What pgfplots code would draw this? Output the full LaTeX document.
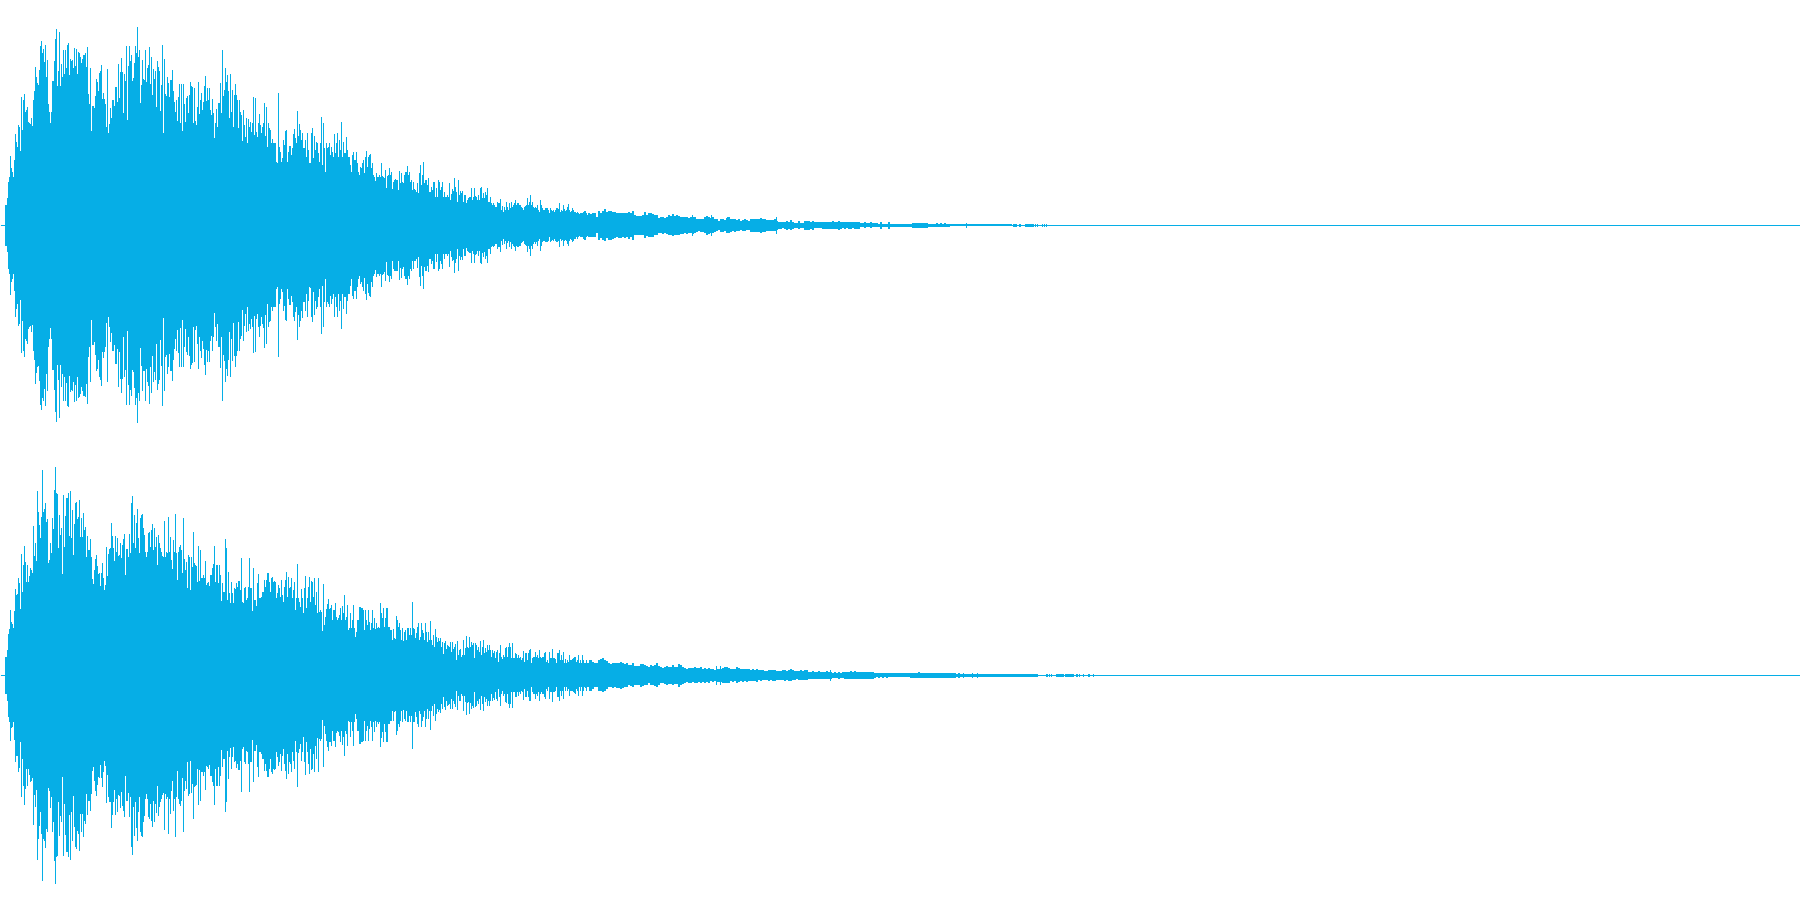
\documentclass[border=0pt]{standalone}
\usepackage{pgfplots}
\usepackage{pgfplotstable}
\pgfplotsset{compat=1.18}
\definecolor{wave}{RGB}{6,174,230}
% x = sample column in pixels; a = peak amplitude (1/3 pixel units)
\pgfplotstableread[row sep=crcr]{x a\\5 61\\6 61\\7 81\\8 131\\9 146\\10 208\\11 171\\12 161\\13 146\\14 196\\15 274\\16 251\\17 236\\18 301\\19 296\\20 223\\21 384\\22 287\\23 376\\24 394\\25 341\\26 346\\27 356\\28 311\\29 306\\30 303\\31 321\\32 298\\33 376\\34 404\\35 476\\36 444\\37 426\\38 421\\39 466\\40 538\\41 554\\42 518\\43 528\\44 491\\45 541\\46 446\\47 496\\48 364\\49 341\\50 308\\51 341\\52 433\\53 433\\54 493\\55 559\\56 589\\57 418\\58 464\\59 579\\60 418\\61 484\\62 446\\63 526\\64 454\\65 526\\66 473\\67 541\\68 546\\69 452\\70 499\\71 493\\72 496\\73 471\\74 531\\75 479\\76 528\\77 454\\78 519\\79 516\\80 506\\81 486\\82 498\\83 511\\84 511\\85 516\\86 476\\87 536\\88 394\\89 364\\90 471\\91 284\\92 358\\93 358\\94 351\\95 388\\96 438\\97 431\\98 404\\99 456\\100 463\\101 481\\102 380\\103 398\\104 380\\105 364\\106 294\\107 469\\108 276\\109 304\\110 351\\111 323\\112 376\\113 376\\114 358\\115 416\\116 416\\117 371\\118 484\\119 381\\120 461\\121 503\\122 461\\123 336\\124 454\\125 434\\126 538\\127 316\\128 479\\129 538\\130 493\\131 511\\132 434\\133 441\\134 488\\135 538\\136 518\\137 594\\138 504\\139 526\\140 368\\141 421\\142 496\\143 438\\144 436\\145 526\\146 431\\147 471\\148 481\\149 536\\150 424\\151 504\\152 391\\153 469\\154 439\\155 463\\156 356\\157 494\\158 476\\159 463\\160 344\\161 421\\162 541\\163 278\\164 498\\165 394\\166 388\\167 446\\168 426\\169 386\\170 436\\171 436\\172 466\\173 404\\174 371\\175 341\\176 376\\177 314\\178 384\\179 424\\180 308\\181 424\\182 284\\183 424\\184 364\\185 311\\186 381\\187 388\\188 336\\189 391\\190 431\\191 418\\192 414\\193 306\\194 411\\195 314\\196 301\\197 356\\198 431\\199 334\\200 376\\%
201 398\\202 346\\203 371\\204 418\\205 448\\206 374\\207 411\\208 376\\209 411\\210 346\\211 331\\212 378\\213 336\\214 263\\215 306\\216 348\\217 296\\218 366\\219 366\\220 428\\221 336\\222 526\\223 388\\224 406\\225 471\\226 431\\227 451\\228 404\\229 321\\230 454\\231 341\\232 406\\233 294\\234 391\\235 424\\236 391\\237 376\\238 291\\239 376\\240 341\\241 331\\242 254\\243 346\\244 301\\245 266\\246 321\\247 246\\248 318\\249 296\\250 311\\251 281\\252 306\\253 384\\254 271\\255 381\\256 281\\257 266\\258 306\\259 334\\260 301\\261 276\\262 296\\263 308\\264 368\\265 268\\266 356\\267 236\\268 306\\269 291\\270 286\\271 246\\272 258\\273 246\\274 246\\275 246\\276 191\\277 186\\278 396\\279 236\\280 221\\281 191\\282 201\\283 256\\284 241\\285 284\\286 286\\287 191\\288 221\\289 238\\290 238\\291 211\\292 231\\293 274\\294 288\\295 261\\296 246\\297 343\\298 268\\299 304\\300 286\\301 256\\302 278\\303 231\\304 231\\305 256\\306 206\\307 276\\308 226\\309 186\\310 188\\311 276\\312 291\\313 201\\314 268\\315 226\\316 251\\317 246\\318 216\\319 191\\320 246\\321 326\\322 181\\323 306\\324 231\\325 161\\326 246\\327 231\\328 236\\329 246\\330 211\\331 236\\332 221\\333 206\\334 274\\335 216\\336 246\\337 276\\338 206\\339 256\\340 226\\341 311\\342 206\\343 251\\344 216\\345 216\\346 266\\347 226\\348 206\\349 206\\350 181\\351 161\\352 211\\353 221\\354 196\\355 196\\356 221\\357 186\\358 161\\359 151\\360 176\\361 171\\362 186\\363 196\\364 158\\365 206\\366 224\\367 176\\368 204\\369 211\\370 214\\371 171\\372 186\\373 151\\374 146\\375 133\\376 156\\377 146\\378 146\\379 151\\380 146\\381 186\\382 148\\383 146\\384 141\\385 166\\386 111\\387 148\\388 151\\389 171\\390 151\\391 161\\392 108\\393 131\\394 136\\395 138\\396 136\\397 136\\398 106\\399 164\\400 128\\%
401 158\\402 131\\403 126\\404 151\\405 161\\406 161\\407 178\\408 151\\409 161\\410 131\\411 136\\412 106\\413 131\\414 108\\415 106\\416 101\\417 128\\418 96\\419 156\\420 181\\421 121\\422 151\\423 190\\424 126\\425 136\\426 136\\427 121\\428 141\\429 101\\430 101\\431 116\\432 106\\433 131\\434 131\\435 86\\436 111\\437 86\\438 136\\439 131\\440 106\\441 116\\442 131\\443 86\\444 101\\445 86\\446 86\\447 91\\448 86\\449 126\\450 76\\451 94\\452 108\\453 104\\454 142\\455 114\\456 101\\457 71\\458 136\\459 91\\460 103\\461 96\\462 103\\463 71\\464 91\\465 91\\466 68\\467 76\\468 81\\469 84\\470 84\\471 112\\472 76\\473 86\\474 112\\475 88\\476 86\\477 76\\478 91\\479 76\\480 112\\481 116\\482 83\\483 96\\484 81\\485 101\\486 91\\487 112\\488 71\\489 71\\490 86\\491 66\\492 61\\493 66\\494 61\\495 56\\496 56\\497 71\\498 66\\499 66\\500 79\\501 46\\502 59\\503 41\\504 56\\505 46\\506 71\\507 54\\508 46\\509 66\\510 51\\511 71\\512 56\\513 61\\514 66\\515 76\\516 61\\517 66\\518 66\\519 61\\520 61\\521 54\\522 51\\523 46\\524 56\\525 59\\526 61\\527 81\\528 61\\529 71\\530 91\\531 61\\532 71\\533 56\\534 51\\535 56\\536 51\\537 61\\538 46\\539 41\\540 76\\541 61\\542 51\\543 46\\544 46\\545 51\\546 51\\547 51\\548 46\\549 36\\550 51\\551 46\\552 44\\553 46\\554 41\\555 46\\556 51\\557 51\\558 48\\559 66\\560 41\\561 46\\562 44\\563 61\\564 48\\565 44\\566 46\\567 56\\568 63\\569 46\\570 41\\571 43\\572 51\\573 46\\574 41\\575 41\\576 36\\577 41\\578 36\\579 33\\580 36\\581 36\\582 36\\583 41\\584 43\\585 44\\586 36\\587 31\\588 36\\589 36\\692 31\\711 31\\727 24\\776 25\\966 7\\1033 4\\1035 4\\1037 4\\1042 4\\1044 4\\1046 4\\}\topA
\pgfplotstableread[row sep=crcr]{x a\\590 34\\592 36\\594 36\\596 24\\598 43\\600 37\\602 43\\604 48\\606 39\\608 43\\610 44\\612 41\\614 39\\616 36\\618 37\\620 38\\622 36\\624 38\\626 36\\628 40\\630 36\\632 44\\634 30\\636 28\\638 28\\640 28\\642 30\\644 39\\646 32\\648 36\\650 36\\652 34\\654 30\\656 30\\658 23\\660 24\\662 26\\664 23\\666 25\\668 30\\670 28\\672 33\\674 28\\676 30\\678 28\\680 26\\682 26\\684 24\\686 26\\688 23\\690 24\\692 26\\694 24\\696 20\\698 18\\700 20\\702 20\\704 24\\706 28\\708 26\\710 22\\712 24\\714 20\\716 18\\718 14\\720 20\\722 20\\724 16\\726 22\\728 24\\730 20\\732 18\\734 20\\736 17\\738 18\\740 14\\742 16\\744 18\\746 15\\748 14\\750 20\\752 19\\754 19\\756 20\\758 20\\760 22\\762 19\\764 20\\766 16\\768 16\\770 16\\772 16\\774 18\\776 14\\778 10\\780 11\\782 9\\784 10\\786 14\\788 10\\790 15\\792 11\\794 8\\796 8\\798 12\\800 7\\802 8\\804 13\\806 13\\808 13\\810 10\\812 13\\814 9\\816 9\\818 9\\820 9\\822 10\\824 10\\826 10\\828 10\\830 10\\832 12\\834 10\\836 10\\838 14\\840 10\\842 9\\844 10\\846 9\\848 10\\850 10\\852 9\\854 10\\856 10\\858 10\\860 6\\862 6\\864 9\\866 6\\868 6\\870 9\\872 6\\874 6\\876 6\\878 5\\880 10\\882 5\\884 5\\886 5\\888 10\\890 5\\892 5\\894 5\\896 5\\898 4\\900 4\\902 5\\904 4\\906 5\\908 4\\910 4\\912 7\\914 7\\916 7\\918 7\\920 7\\922 7\\924 7\\926 7\\928 4\\930 5\\932 4\\934 4\\936 6\\938 5\\940 6\\942 4\\944 6\\946 5\\948 4\\950 3\\952 3\\954 3\\956 3\\958 3\\960 3\\962 3\\964 3\\966 3\\968 3\\970 3\\972 3\\974 3\\976 3\\978 3\\980 3\\982 3\\984 3\\986 3\\988 3\\990 3\\992 3\\994 3\\996 3\\998 3\\1000 3\\1002 3\\1004 3\\1006 3\\1008 3\\1010 3\\1013 4\\1015 4\\1019 4\\1025 4\\1027 4\\1029 4\\1031 4\\}\topB
\pgfplotstableread[row sep=crcr]{x a\\5 56\\6 56\\7 76\\8 124\\9 139\\10 196\\11 159\\12 154\\13 141\\14 193\\15 259\\16 241\\17 243\\18 291\\19 278\\20 199\\21 364\\22 250\\23 331\\24 388\\25 341\\26 281\\27 331\\28 281\\29 298\\30 321\\31 316\\32 308\\33 448\\34 358\\35 396\\36 343\\37 553\\38 491\\39 451\\40 411\\41 476\\42 616\\43 491\\44 498\\45 518\\46 461\\47 469\\48 338\\49 346\\50 398\\51 366\\52 471\\53 439\\54 556\\55 626\\56 546\\57 543\\58 381\\59 481\\60 421\\61 441\\62 304\\63 541\\64 386\\65 479\\66 531\\67 531\\68 546\\69 418\\70 554\\71 411\\72 496\\73 361\\74 454\\75 516\\76 521\\77 468\\78 476\\79 526\\80 416\\81 471\\82 416\\83 486\\84 436\\85 446\\86 356\\87 418\\88 376\\89 376\\90 408\\91 356\\92 288\\93 274\\94 316\\95 348\\96 361\\97 328\\98 304\\99 308\\100 268\\101 308\\102 336\\103 291\\104 256\\105 271\\106 384\\107 298\\108 364\\109 379\\110 381\\111 458\\112 418\\113 381\\114 344\\115 418\\116 371\\117 411\\118 359\\119 361\\120 398\\121 351\\122 391\\123 408\\124 424\\125 301\\126 378\\127 378\\128 354\\129 424\\130 366\\131 516\\132 538\\133 396\\134 481\\135 381\\136 458\\137 498\\138 411\\139 366\\140 471\\141 481\\142 484\\143 441\\144 421\\145 371\\146 356\\147 371\\148 426\\149 431\\150 386\\151 436\\152 454\\153 376\\154 441\\155 386\\156 414\\157 331\\158 421\\159 396\\160 381\\161 371\\162 358\\163 354\\164 464\\165 356\\166 371\\167 366\\168 476\\169 371\\170 416\\171 346\\172 318\\173 406\\174 371\\175 484\\176 366\\177 286\\178 371\\179 386\\180 391\\181 376\\182 308\\183 471\\184 348\\185 316\\186 341\\187 261\\188 361\\189 356\\190 256\\191 354\\192 326\\193 431\\194 336\\195 331\\196 328\\197 281\\198 388\\199 284\\200 376\\%
201 291\\202 291\\203 301\\204 291\\205 344\\206 271\\207 276\\208 281\\209 268\\210 301\\211 301\\212 321\\213 333\\214 388\\215 281\\216 331\\217 331\\218 276\\219 331\\220 301\\221 224\\222 276\\223 251\\224 251\\225 409\\226 381\\227 226\\228 311\\229 246\\230 218\\231 281\\232 246\\233 216\\234 261\\235 258\\236 278\\237 266\\238 284\\239 284\\240 256\\241 351\\242 221\\243 216\\244 261\\245 266\\246 226\\247 231\\248 266\\249 351\\250 261\\251 261\\252 194\\253 321\\254 226\\255 226\\256 209\\257 276\\258 304\\259 231\\260 231\\261 236\\262 251\\263 251\\264 286\\265 266\\266 286\\267 306\\268 306\\269 281\\270 251\\271 291\\272 296\\273 281\\274 284\\275 281\\276 231\\277 246\\278 271\\279 261\\280 236\\281 286\\282 241\\283 221\\284 266\\285 286\\286 311\\287 236\\288 296\\289 261\\290 266\\291 291\\292 231\\293 256\\294 281\\295 196\\296 231\\297 334\\298 233\\299 221\\300 206\\301 258\\302 231\\303 186\\304 261\\305 298\\306 201\\307 231\\308 266\\309 296\\310 221\\311 284\\312 281\\313 236\\314 291\\315 211\\316 251\\317 188\\318 291\\319 191\\320 196\\321 191\\322 134\\323 274\\324 151\\325 176\\326 198\\327 214\\328 228\\329 199\\330 201\\331 211\\332 166\\333 196\\334 196\\335 216\\336 174\\337 166\\338 171\\339 181\\340 201\\341 166\\342 209\\343 186\\344 241\\345 166\\346 176\\347 211\\348 136\\349 141\\350 186\\351 141\\352 166\\353 211\\354 141\\355 116\\356 131\\357 166\\358 166\\359 206\\360 206\\361 201\\362 201\\363 196\\364 136\\365 196\\366 166\\367 151\\368 196\\369 161\\370 136\\371 156\\372 196\\373 141\\374 171\\375 138\\376 156\\377 141\\378 146\\379 141\\380 216\\381 188\\382 171\\383 201\\384 146\\385 171\\386 201\\387 201\\388 146\\389 146\\390 136\\391 136\\392 106\\393 138\\394 111\\395 108\\396 178\\397 166\\398 146\\399 156\\400 136\\%
401 106\\402 141\\403 104\\404 131\\405 136\\406 106\\407 141\\408 141\\409 121\\410 141\\411 121\\412 220\\413 141\\414 139\\415 111\\416 126\\417 146\\418 156\\419 106\\420 116\\421 156\\422 136\\423 126\\424 106\\425 156\\426 131\\427 101\\428 131\\429 106\\430 164\\431 106\\432 91\\433 121\\434 86\\435 138\\436 116\\437 101\\438 111\\439 104\\440 113\\441 86\\442 101\\443 64\\444 96\\445 104\\446 78\\447 91\\448 88\\449 86\\450 100\\451 71\\452 100\\453 78\\454 86\\455 94\\456 46\\457 103\\458 61\\459 76\\460 78\\461 56\\462 61\\463 106\\464 61\\465 81\\466 118\\467 84\\468 81\\469 115\\470 84\\471 101\\472 91\\473 98\\474 51\\475 96\\476 91\\477 76\\478 86\\479 71\\480 103\\481 61\\482 86\\483 106\\484 66\\485 81\\486 71\\487 91\\488 76\\489 91\\490 76\\491 56\\492 76\\493 68\\494 73\\495 51\\496 71\\497 76\\498 41\\499 66\\500 91\\501 56\\502 48\\503 61\\504 56\\505 81\\506 84\\507 56\\508 86\\509 98\\510 86\\511 51\\512 97\\513 51\\514 51\\515 66\\516 64\\517 51\\518 61\\519 51\\520 56\\521 46\\522 51\\523 73\\524 41\\525 66\\526 66\\527 46\\528 66\\529 76\\530 78\\531 36\\532 51\\533 56\\534 56\\535 71\\536 56\\537 61\\538 51\\539 76\\540 56\\541 51\\542 56\\543 56\\544 66\\545 71\\546 41\\547 46\\548 36\\549 71\\550 51\\551 51\\552 79\\553 51\\554 51\\555 48\\556 36\\557 66\\558 66\\559 76\\560 46\\561 61\\562 46\\563 71\\564 36\\565 48\\566 36\\567 46\\568 41\\569 61\\570 46\\571 46\\572 48\\573 51\\574 54\\575 56\\576 41\\577 46\\578 61\\579 36\\580 46\\581 36\\582 61\\583 46\\584 36\\585 38\\586 46\\587 36\\588 36\\589 46\\716 28\\720 28\\830 16\\963 7\\972 7\\977 7\\1049 4\\1051 4\\1073 4\\1079 4\\1083 4\\1093 4\\}\botA
\pgfplotstableread[row sep=crcr]{x a\\590 46\\592 40\\594 36\\596 36\\598 46\\600 48\\602 51\\604 46\\606 42\\608 36\\610 34\\612 38\\614 36\\616 38\\618 37\\620 40\\622 38\\624 34\\626 36\\628 30\\630 32\\632 36\\634 28\\636 28\\638 28\\640 34\\642 33\\644 30\\646 28\\648 24\\650 30\\652 28\\654 32\\656 36\\658 28\\660 24\\662 22\\664 26\\666 28\\668 26\\670 26\\672 30\\674 26\\676 26\\678 34\\680 30\\682 26\\684 22\\686 20\\688 22\\690 22\\692 21\\694 24\\696 22\\698 21\\700 24\\702 20\\704 22\\706 20\\708 22\\710 18\\712 19\\714 17\\716 20\\718 19\\720 20\\722 22\\724 24\\726 24\\728 22\\730 18\\732 20\\734 18\\736 24\\738 21\\740 18\\742 20\\744 18\\746 19\\748 18\\750 16\\752 18\\754 17\\756 20\\758 15\\760 17\\762 15\\764 14\\766 14\\768 16\\770 15\\772 16\\774 17\\776 13\\778 13\\780 14\\782 15\\784 16\\786 13\\788 16\\790 18\\792 15\\794 13\\796 12\\798 14\\800 15\\802 13\\804 15\\806 15\\808 10\\810 10\\812 12\\814 10\\816 10\\818 12\\820 10\\822 10\\824 10\\826 12\\828 10\\830 10\\832 7\\834 9\\836 7\\838 10\\840 7\\842 9\\844 10\\846 10\\848 10\\850 12\\852 10\\854 12\\856 10\\858 10\\860 11\\862 10\\864 10\\866 10\\868 10\\870 10\\872 10\\874 7\\876 6\\878 8\\880 6\\882 8\\884 6\\886 8\\888 6\\890 6\\892 6\\894 6\\896 6\\898 6\\900 6\\902 6\\904 6\\906 6\\908 6\\910 7\\912 7\\914 7\\916 7\\918 9\\920 7\\922 7\\924 7\\926 7\\928 7\\930 7\\932 7\\934 7\\936 7\\938 7\\940 7\\942 7\\944 7\\946 7\\948 7\\950 7\\952 7\\954 7\\956 4\\958 7\\960 4\\962 4\\964 4\\966 4\\968 4\\970 4\\972 4\\974 4\\976 4\\978 4\\980 4\\982 4\\984 4\\986 4\\988 4\\990 4\\992 4\\994 4\\996 4\\998 4\\1000 4\\1002 4\\1004 4\\1006 4\\1008 4\\1010 4\\1012 4\\1014 4\\1016 4\\1018 4\\1020 4\\1022 4\\1024 4\\1026 4\\1028 4\\1030 4\\1032 4\\1034 4\\1036 4\\1046 4\\1056 4\\1058 4\\1060 4\\1062 4\\1065 4\\1067 4\\1069 4\\1071 4\\1076 4\\1088 4\\}\botB
\pgfplotstableread[row sep=crcr]{x y\\0 0\\1800 0\\}\midline
\pgfplotsset{wavepanel/.style={
  scale only axis, width=900pt, height=225pt,
  xmin=-0.5, xmax=1799.5, ymin=-674, ymax=676,
  hide axis, clip=false, no markers}}
\begin{document}
\begin{tikzpicture}
\path[use as bounding box] (0pt,0pt) rectangle (900pt,450pt);
\begin{axis}[wavepanel, at={(0pt,225pt)}, anchor=south west]
\addplot[wave, line width=0.5pt] table[x=x,y=y] {\midline};
\addplot[wave, ycomb, line width=0.5pt] table[x=x,y=a] {\topA};
\addplot[wave, ycomb, line width=0.5pt] table[x=x,y expr=-\thisrow{a}] {\topA};
\addplot[wave, ycomb, line width=1pt] table[x=x,y=a] {\topB};
\addplot[wave, ycomb, line width=1pt] table[x=x,y expr=-\thisrow{a}] {\topB};
\end{axis}
\begin{axis}[wavepanel, at={(0pt,0pt)}, anchor=south west]
\addplot[wave, line width=0.5pt] table[x=x,y=y] {\midline};
\addplot[wave, ycomb, line width=0.5pt] table[x=x,y=a] {\botA};
\addplot[wave, ycomb, line width=0.5pt] table[x=x,y expr=-\thisrow{a}] {\botA};
\addplot[wave, ycomb, line width=1pt] table[x=x,y=a] {\botB};
\addplot[wave, ycomb, line width=1pt] table[x=x,y expr=-\thisrow{a}] {\botB};
\end{axis}
\end{tikzpicture}
\end{document}
